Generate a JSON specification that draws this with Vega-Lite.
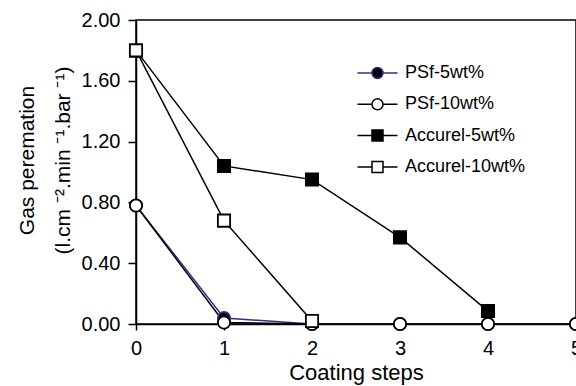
{
  "$schema": "https://vega.github.io/schema/vega-lite/v6.json",
  "width": 440,
  "height": 304,
  "autosize": "none",
  "padding": {"left": 136, "top": 20, "right": 0, "bottom": 62},
  "background": "white",
  "config": {
    "font": "Liberation Sans",
    "view": {"stroke": "black", "strokeWidth": 1.5},
    "axis": {"grid": false, "domainColor": "black", "domainWidth": 1.5, "tickColor": "black", "tickWidth": 1.5, "labelColor": "black", "titleColor": "black", "labelFont": "Liberation Sans", "titleFont": "Liberation Sans", "titleFontWeight": "normal"}
  },
  "data": {
    "values": [
      {"series": "PSf-5wt%", "x": 0, "y": 0.78},
      {"series": "PSf-5wt%", "x": 1, "y": 0.04},
      {"series": "PSf-5wt%", "x": 2, "y": 0.0},
      {"series": "PSf-5wt%", "x": 3, "y": 0.0},
      {"series": "PSf-5wt%", "x": 4, "y": 0.0},
      {"series": "PSf-5wt%", "x": 5, "y": 0.0},
      {"series": "PSf-10wt%", "x": 0, "y": 0.78},
      {"series": "PSf-10wt%", "x": 1, "y": 0.01},
      {"series": "PSf-10wt%", "x": 2, "y": 0.0},
      {"series": "PSf-10wt%", "x": 3, "y": 0.0},
      {"series": "PSf-10wt%", "x": 4, "y": 0.0},
      {"series": "PSf-10wt%", "x": 5, "y": 0.0},
      {"series": "Accurel-5wt%", "x": 0, "y": 1.80},
      {"series": "Accurel-5wt%", "x": 1, "y": 1.04},
      {"series": "Accurel-5wt%", "x": 2, "y": 0.95},
      {"series": "Accurel-5wt%", "x": 3, "y": 0.57},
      {"series": "Accurel-5wt%", "x": 4, "y": 0.085},
      {"series": "Accurel-10wt%", "x": 0, "y": 1.80},
      {"series": "Accurel-10wt%", "x": 1, "y": 0.68},
      {"series": "Accurel-10wt%", "x": 2, "y": 0.02}
    ]
  },
  "encoding": {
    "x": {
      "field": "x", "type": "quantitative",
      "scale": {"domain": [0, 5], "nice": false, "zero": false},
      "axis": {"values": [0, 1, 2, 3, 4, 5], "format": "d", "title": "Coating steps", "labelFontSize": 20, "titleFontSize": 22, "tickSize": 6, "labelPadding": 8, "titlePadding": 4, "labelFlush": false}
    },
    "y": {
      "field": "y", "type": "quantitative",
      "scale": {"domain": [0, 2], "nice": false},
      "axis": {"values": [0, 0.4, 0.8, 1.2, 1.6, 2.0], "format": ".2f", "title": ["Gas peremation", "(l.cm ⁻².min ⁻¹.bar ⁻¹)"], "labelFontSize": 20, "titleFontSize": 21, "titleLineHeight": 36, "tickSize": 8, "labelPadding": 8, "titlePadding": 8, "titleY": 140}
    }
  },
  "layer": [
    {
      "mark": {"type": "line", "strokeWidth": 1.5},
      "encoding": {
        "detail": {"field": "series"},
        "order": {"field": "x"},
        "stroke": {"condition": {"test": "datum.series === 'PSf-5wt%'", "value": "#3f2a8a"}, "value": "black"}
      }
    },
    {
      "mark": {"type": "point", "filled": false, "size": 150, "strokeWidth": 1.8, "opacity": 1},
      "encoding": {
        "shape": {"condition": {"test": "indexof(datum.series, 'PSf') === 0", "value": "circle"}, "value": "square"},
        "fill": {"condition": {"test": "indexof(datum.series, '-5wt') >= 0", "value": "black"}, "value": "white"},
        "stroke": {"condition": {"test": "datum.series === 'PSf-5wt%'", "value": "#3f2a8a"}, "value": "black"},
        "fillOpacity": {"value": 1}
      }
    },
    {
      "transform": [{"filter": "datum.y > 100"}],
      "mark": {"type": "point", "filled": false, "size": 121, "strokeWidth": 1.5},
      "encoding": {
        "shape": {
          "field": "series", "type": "nominal",
          "scale": {
            "domain": ["PSf-5wt%", "PSf-10wt%", "Accurel-5wt%", "Accurel-10wt%"],
            "range": [
              "M-3.64,0H-1M1,0H3.64M-1,0A1,1 0 1,0 1,0A1,1 0 1,0 -1,0Z",
              "M-3.64,0H-1M1,0H3.64M-1,0A1,1 0 1,0 1,0A1,1 0 1,0 -1,0Z",
              "M-3.64,0H-1M1,0H3.64M-1,-1H1V1H-1Z",
              "M-3.64,0H-1M1,0H3.64M-1,-1H1V1H-1Z"
            ]
          },
          "legend": {"orient": "none", "legendX": 232.5, "legendY": 44, "title": null, "labelFontSize": 18, "labelFont": "Liberation Sans", "labelColor": "black", "labelOffset": 18.5, "rowPadding": 13.3, "padding": 0, "symbolSize": 121, "symbolStrokeWidth": 1.5, "symbolOpacity": 1, "labelLimit": 300}
        },
        "fill": {
          "field": "series", "type": "nominal",
          "scale": {"domain": ["PSf-5wt%", "PSf-10wt%", "Accurel-5wt%", "Accurel-10wt%"], "range": ["black", "white", "black", "white"]}
        },
        "stroke": {
          "field": "series", "type": "nominal",
          "scale": {"domain": ["PSf-5wt%", "PSf-10wt%", "Accurel-5wt%", "Accurel-10wt%"], "range": ["#3f2a8a", "black", "black", "black"]}
        }
      }
    }
  ]
}
